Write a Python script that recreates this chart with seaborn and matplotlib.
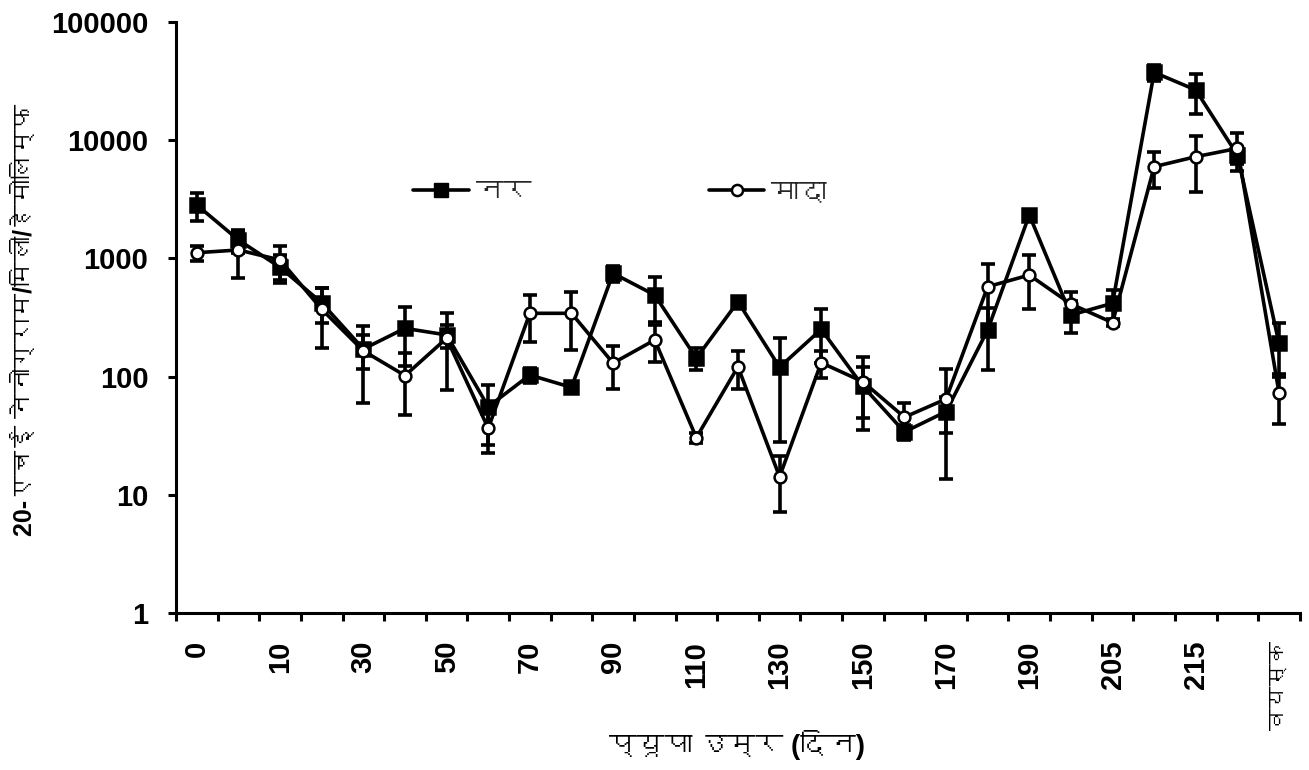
import numpy as np
import pandas as pd
import seaborn as sns
import matplotlib.pyplot as plt
import matplotlib.lines as mlines
from matplotlib import font_manager
from matplotlib.ft2font import FT2Font

sns.set_theme(style="ticks")


def find_deva():
    # look for any installed font that has Devanagari glyphs
    for path in sorted(font_manager.findSystemFonts()):
        try:
            if 0x0928 in FT2Font(path).get_charmap():
                return font_manager.FontProperties(fname=path).get_name()
        except Exception:
            pass
    return "DejaVu Sans"


deva = find_deva()
plt.rcParams['font.family'] = ['Liberation Sans', deva, 'DejaVu Sans']

ages = ["0", "5", "10", "20", "30", "40", "50", "60", "70", "80", "90", "100", "110", "120",
        "130", "140", "150", "160", "170", "180", "190", "200", "205", "210", "215", "220", "वयस्क"]

male = [2830, 1430, 840, 420, 171, 256, 225, 55.6, 103, 81, 748, 490, 143, 430,
        120, 251, 83, 34, 50.5, 248, 2330, 332, 417, 37500, 26600, 7500, 191]
male_sd = [750, 310, 220, 138, 54, 134, 50, 29, 15, 8, 120, 200, 30, 40,
           92, 120, 38, 5, 17, 134, 250, 100, 123, 6000, 10000, 1200, 92]

female = [1117, 1178, 969, 371, 165, 102, 211, 36.5, 343, 343, 130, 204, 30.4, 121,
          14.2, 131, 90.5, 45.3, 64.6, 576, 723, 411, 286, 5970, 7250, 8520, 73]
female_sd = [165, 491, 311, 195, 105, 55, 134, 14, 146, 175, 52, 70, 3, 43,
             7, 34, 55, 15, 51, 321, 350, 110, 20, 2000, 3600, 3000, 33]

labels = ["नर", "मादा"]

pos = np.arange(len(ages))
df = pd.DataFrame({
    "pos": np.concatenate([pos, pos]),
    "value": male + female,
    "sex": [labels[0]] * len(ages) + [labels[1]] * len(ages),
})

fig = plt.figure(figsize=(13.09, 7.70), dpi=100)
ax = fig.add_axes([0.1345, 0.204, 0.8585, 0.7674])

lw = 2.6
ax.errorbar(pos, male, yerr=male_sd, fmt='none', ecolor='black', elinewidth=lw,
            capsize=5, capthick=lw, zorder=1)
ax.errorbar(pos, female, yerr=female_sd, fmt='none', ecolor='black', elinewidth=lw,
            capsize=5, capthick=lw, zorder=1)

sns.lineplot(data=df, x="pos", y="value", hue="sex", style="sex", hue_order=labels,
             markers={labels[0]: "s", labels[1]: "o"}, dashes=False,
             palette={labels[0]: "black", labels[1]: "black"},
             lw=lw, markersize=10, markeredgewidth=1.8, markeredgecolor="black",
             legend=False, ax=ax, zorder=2)
ax.lines[-1].set_markerfacecolor("white")
ax.lines[-1].set_markersize(8.5)
ax.set_xlabel("")
ax.set_ylabel("")

ax.set_yscale('log')
ax.set_ylim(1, 100000)
ax.set_yticks([1, 10, 100, 1000, 10000, 100000])
ax.set_yticklabels(["1", "10", "100", "1000", "10000", "100000"])
ax.yaxis.set_minor_locator(plt.NullLocator())

ax.set_xlim(-0.5, len(ages) - 0.5)
ax.set_xticks(pos[::2])
ax.set_xticklabels(ages[::2], rotation=90, va='top')
ax.set_xticks(np.arange(len(ages) + 1) - 0.5, minor=True)
ax.tick_params(axis='x', which='major', length=0, pad=20)
ax.tick_params(axis='x', which='minor', length=6, width=2.2, direction='out', color='black')
ax.tick_params(axis='y', which='major', length=6, width=2.2, direction='out', color='black', pad=14)
for t in ax.get_xticklabels():
    t.set_fontsize(21)
    t.set_fontweight('bold')
    t.set_color('black')
# the adult label has no shaping here, so it runs longer; keep it inside the figure
ax.get_xticklabels()[-1].set_fontsize(16)
for t in ax.get_yticklabels():
    t.set_fontsize(21)
    t.set_fontweight('bold')
    t.set_color('black')

for s in ['top', 'right']:
    ax.spines[s].set_visible(False)
for s in ['left', 'bottom']:
    ax.spines[s].set_linewidth(2.2)
    ax.spines[s].set_color('black')

fig.text(737 / 1309, 1 - 745 / 770, "प्यूपा उम्र (दिन)", fontsize=20, fontweight='bold',
         color='black', ha='center', va='center')
fig.text(25 / 1309, 1 - 320 / 770, "20-एचई नेनोग्राम/मिली/हेमोलिम्फ", fontsize=18,
         fontweight='bold', color='black', ha='center', va='center', rotation=90)

handles = [
    mlines.Line2D([], [], color='black', lw=lw, marker='s', markersize=10,
                  markerfacecolor='black', markeredgecolor='black'),
    mlines.Line2D([], [], color='black', lw=lw, marker='o', markersize=8,
                  markerfacecolor='white', markeredgecolor='black', markeredgewidth=1.8),
]
leg = ax.legend(handles, labels, loc='center left', bbox_to_anchor=(413 / 1309, 1 - 193 / 770),
                bbox_transform=fig.transFigure, ncol=2, frameon=False, borderaxespad=0,
                borderpad=0, handlelength=2.0, handletextpad=0.25, columnspacing=6.4,
                prop={'size': 20, 'weight': 'bold'})

fig.savefig("out.png", dpi=100)
